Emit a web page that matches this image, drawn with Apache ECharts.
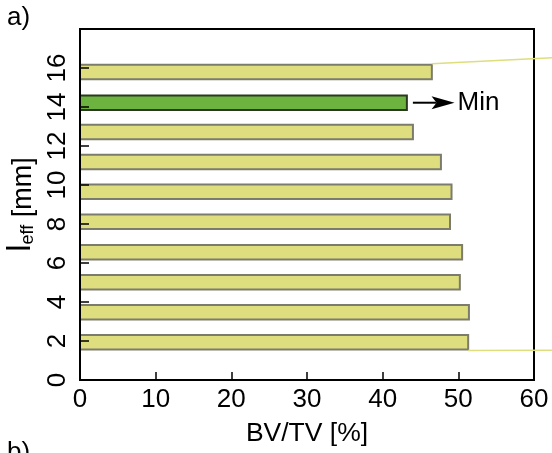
<!DOCTYPE html>
<html>
<head>
<meta charset="utf-8">
<script src="https://cdn.jsdelivr.net/npm/echarts@6/dist/echarts.min.js"></script>
<style>html,body{margin:0;padding:0;background:#fff;}#c{width:552px;height:453px;}</style>
</head>
<body>
<div id="c"></div>
<script>
// l_eff positions [mm] (y) and BV/TV [%] (x)
const leff = [1.93, 3.47, 5.01, 6.55, 8.12, 9.66, 11.18, 12.72, 14.22, 15.79];
const bvtv = [51.3, 51.4, 50.2, 50.5, 48.9, 49.1, 47.7, 44.0, 43.2, 46.5];
const xTicks = [0, 10, 20, 30, 40, 50, 60];
const yTicks = [0, 2, 4, 6, 8, 10, 12, 14, 16];
const minLabel = 'Min';
// connector lines (data units): to the zoomed panel b)
const connectorTopEnd = [62.4, 16.53];
const connectorBottomEnd = [62.4, 1.52];

const FONT = 'Liberation Sans, Arial, sans-serif';
const minIdx = bvtv.indexOf(Math.min(...bvtv));
const BAR_H = 14.5;

const chart = echarts.init(document.getElementById('c'), null, {renderer: 'canvas'});
const data = bvtv.map((v, i) => [v, leff[i]]);

chart.setOption({
  animation: false,
  grid: {left: 80, right: 18, top: 29, bottom: 73, outerBoundsMode: 'none', containLabel: false,
    show: true, borderColor: '#000', borderWidth: 2, backgroundColor: 'transparent'},
  xAxis: {
    type: 'value', min: xTicks[0], max: xTicks[xTicks.length - 1], interval: 10, z: 5,
    name: 'BV/TV [%]', nameLocation: 'middle', nameGap: 40,
    nameTextStyle: {fontFamily: FONT, fontSize: 26.5, color: '#000'},
    axisLine: {show: true, onZero: false, lineStyle: {color: '#000', width: 2}},
    axisTick: {show: true, inside: true, length: 8, lineStyle: {color: '#000', width: 1.5}},
    axisLabel: {fontFamily: FONT, fontSize: 26, color: '#000', margin: 7},
    splitLine: {show: false}
  },
  yAxis: {
    type: 'value', min: 0, max: 18, interval: 2, z: 5,
    name: '{l|l}{s|eff}{t| [mm]}', nameLocation: 'middle', nameGap: 37, nameRotate: 90,
    nameTextStyle: {
      fontFamily: FONT, color: '#000',
      rich: {
        l: {fontFamily: FONT, fontSize: 33, color: '#000', verticalAlign: 'bottom'},
        s: {fontFamily: FONT, fontSize: 18, color: '#000', verticalAlign: 'bottom'},
        t: {fontFamily: FONT, fontSize: 27, color: '#000', verticalAlign: 'bottom'}
      }
    },
    axisLine: {show: true, onZero: false, lineStyle: {color: '#000', width: 2}},
    axisTick: {show: true, inside: true, length: 9, lineStyle: {color: '#000', width: 1.5}},
    axisLabel: {fontFamily: FONT, fontSize: 26, color: '#000', margin: 9, rotate: 90,
      formatter: v => (yTicks.indexOf(v) >= 0 ? String(v) : '')},
    splitLine: {show: false}
  },
  series: [{
    type: 'custom',
    data: data,
    encode: {x: 0, y: 1},
    z: 1,
    renderItem: function (params, api) {
      const x = api.value(0), y = api.value(1);
      const p0 = api.coord([0, y]);
      const p1 = api.coord([x, y]);
      const isMin = params.dataIndex === minIdx;
      return {
        type: 'rect',
        shape: {x: p0[0], y: p0[1] - BAR_H / 2, width: p1[0] - p0[0], height: BAR_H},
        style: {
          fill: isMin ? '#6db33f' : '#dede7e',
          stroke: isMin ? '#2a3a1e' : '#7c7c6c',
          lineWidth: 2
        }
      };
    }
  }]
});

function px(pt) { return chart.convertToPixel({gridIndex: 0}, pt); }

const pMin = px([bvtv[minIdx], leff[minIdx]]);
const shaftStart = pMin[0] + 6;
const tip = px([bvtv[minIdx] + 6.3, leff[minIdx]]);
const ty = pMin[1];
const tx = tip[0];

const topBar = px([bvtv[bvtv.length - 1], leff[leff.length - 1]]);
const botBar = px([bvtv[0], leff[0]]);
const topEnd = px(connectorTopEnd);
const botEnd = px(connectorBottomEnd);

chart.setOption({
  graphic: [
    {type: 'text', left: 7, top: 5, style: {text: 'a)', font: '26px ' + FONT, fill: '#000'}},
    {type: 'text', left: 7, top: 440, style: {text: 'b)', font: '26px ' + FONT, fill: '#000'}},
    {type: 'line', z: 10, shape: {x1: topBar[0], y1: topBar[1] - BAR_H / 2 - 1, x2: topEnd[0], y2: topEnd[1]},
      style: {stroke: '#dede7e', lineWidth: 1.5}},
    {type: 'line', z: 10, shape: {x1: botBar[0], y1: botBar[1] + BAR_H / 2 + 1, x2: botEnd[0], y2: botEnd[1]},
      style: {stroke: '#dede7e', lineWidth: 1.5}},
    {type: 'line', z: 10, shape: {x1: shaftStart, y1: ty, x2: tx - 18, y2: ty}, style: {stroke: '#000', lineWidth: 2}},
    {type: 'polygon', z: 10, shape: {points: [[tx, ty], [tx - 23, ty - 6.5], [tx - 18, ty], [tx - 23, ty + 6.5]]},
      style: {fill: '#000'}},
    {type: 'text', z: 10, x: tx + 3, y: ty, style: {text: minLabel, font: '26px ' + FONT, fill: '#000', verticalAlign: 'middle', align: 'left'}}
  ]
});
</script>
</body>
</html>
